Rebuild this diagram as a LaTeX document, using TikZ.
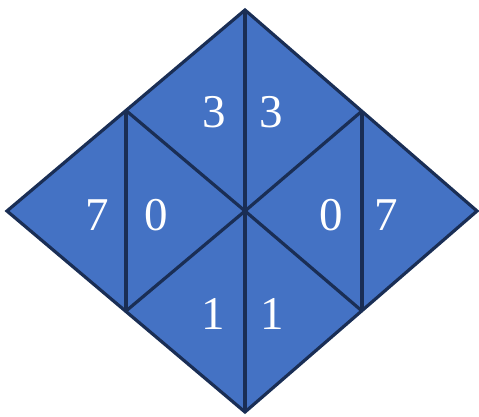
\documentclass[tikz,border=0pt]{standalone}
\usepackage{fontspec}
\setmainfont{Liberation Serif}
\usetikzlibrary{calc}
\definecolor{tilefill}{HTML}{4472C4}
\definecolor{tileline}{HTML}{1A2E55}
\tikzset{
  edgeline/.style={draw=tileline, line width=3.2pt, line join=miter},
  digit/.style={text=white, font=\fontsize{47}{47}\selectfont, inner sep=0pt},
}
\begin{document}
\begin{tikzpicture}[x=1pt, y=-1pt]
  \useasboundingbox (0,0) rectangle (479,416);
  % outer corners of the diamond
  \coordinate (T) at (245,10);
  \coordinate (B) at (245,412);
  \coordinate (L) at (7,211);
  \coordinate (R) at (477,211);
  \coordinate (C) at (245,211);
  % points on the slanted sides
  \coordinate (UL) at (126,110.5);
  \coordinate (UR) at (362,111);
  \coordinate (LL) at (126,311);
  \coordinate (LR) at (362,311);

  \fill[tilefill] (T) -- (R) -- (B) -- (L) -- cycle;
  \draw[edgeline] (T) -- (R) -- (B) -- (L) -- cycle;
  \draw[edgeline] (T) -- (B);
  \draw[edgeline] (UL) -- (LL);
  \draw[edgeline] (UR) -- (LR);
  \draw[edgeline] (UL) -- (C) -- (LR);
  \draw[edgeline] (UR) -- (C) -- (LL);

  \node[digit] (topl) at (214,112) {3};
  \node[digit] (topr) at (271,112) {3};
  \node[digit] (sevl) at (97,215) {7};
  \node[digit] (zerl) at (156,215) {0};
  \node[digit] (zerr) at (331,215) {0};
  \node[digit] (sevr) at (386,215) {7};
  \node[digit] (onel) at (213,314) {1};
  \node[digit] (oner) at (272,314) {1};
\end{tikzpicture}
\end{document}
